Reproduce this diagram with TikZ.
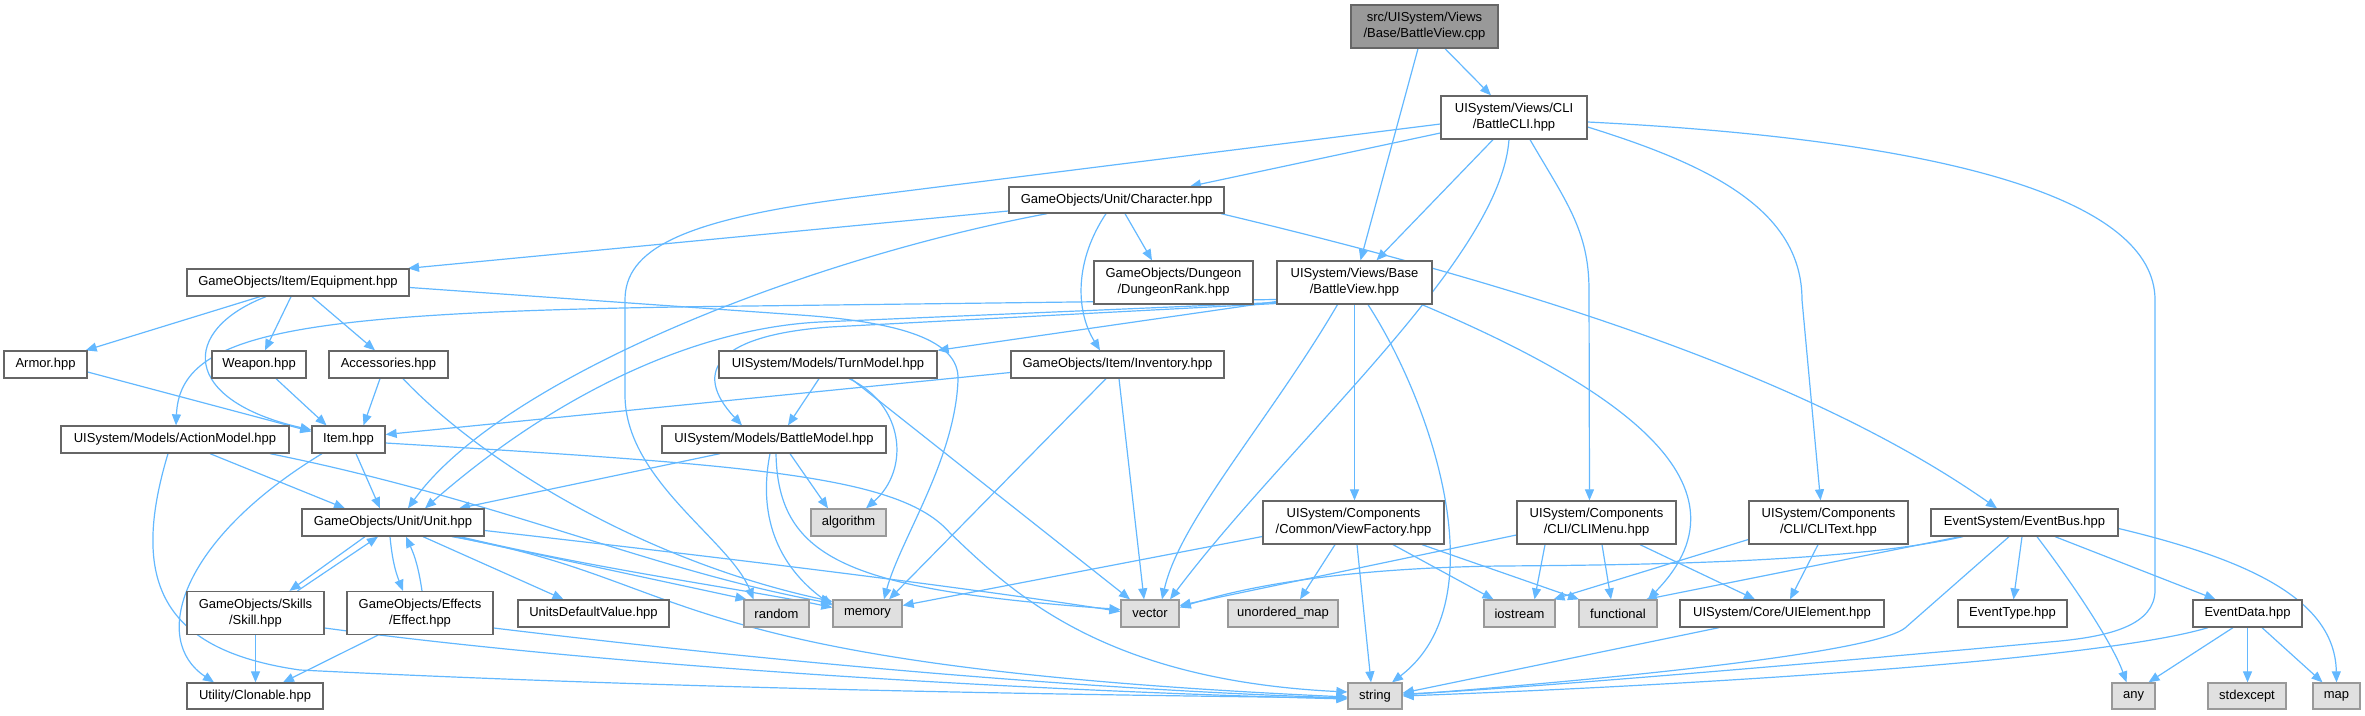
\documentclass[tikz,border=0pt]{standalone}
\usepackage{fontspec}
\setmainfont{Liberation Sans}
\usetikzlibrary{arrows.meta}
\definecolor{edgec}{HTML}{63B8FF}
\definecolor{bord}{HTML}{666666}
\definecolor{sysbord}{HTML}{999999}
\definecolor{sysfill}{HTML}{E0E0E0}
\definecolor{rootfill}{HTML}{999999}
\pgfdeclarelayer{bg}
\pgfsetlayers{bg,main}
\tikzset{
  box/.style={draw=bord, line width=1.3pt, fill=white, inner sep=0pt, align=center,
    font=\fontsize{13}{16}\selectfont, text=black},
  sys/.style={box, draw=sysbord, fill=sysfill},
  root/.style={box, fill=rootfill},
  edge/.style={draw=edgec, line width=1.2pt, -{Triangle[length=11pt,width=9pt]}},
}
\begin{document}
\begin{tikzpicture}[x=1pt,y=-1pt]
\useasboundingbox (0,0) rectangle (2365,715);
% nodes
\node[root, minimum width=147pt, minimum height=43pt] (cpp) at (1424.5,26.5) {src/UISystem/Views\\/Base/BattleView.cpp};
\node[box, minimum width=146pt, minimum height=43pt] (cli) at (1514,117.5) {UISystem/Views/CLI\\/BattleCLI.hpp};
\node[box, minimum width=215pt, minimum height=26pt] (character) at (1116.5,200) {GameObjects/Unit/Character.hpp};
\node[box, minimum width=159pt, minimum height=43pt] (dungeon) at (1173.5,282.5) {GameObjects/Dungeon\\/DungeonRank.hpp};
\node[box, minimum width=155pt, minimum height=43pt] (bvh) at (1354.5,282.5) {UISystem/Views/Base\\/BattleView.hpp};
\node[box, minimum width=222pt, minimum height=27pt] (equipment) at (298,282.5) {GameObjects/Item/Equipment.hpp};
\node[box, minimum width=83pt, minimum height=27pt] (armor) at (45.5,364.5) {Armor.hpp};
\node[box, minimum width=94pt, minimum height=27pt] (weapon) at (259,364.5) {Weapon.hpp};
\node[box, minimum width=119pt, minimum height=27pt] (accessories) at (388.5,364.5) {Accessories.hpp};
\node[box, minimum width=218pt, minimum height=27pt] (turnmodel) at (828,364.5) {UISystem/Models/TurnModel.hpp};
\node[box, minimum width=213pt, minimum height=27pt] (inventory) at (1117.5,364.5) {GameObjects/Item/Inventory.hpp};
\node[box, minimum width=228pt, minimum height=27pt] (actionmodel) at (175,439.5) {UISystem/Models/ActionModel.hpp};
\node[box, minimum width=73pt, minimum height=27pt] (item) at (348.5,439.5) {Item.hpp};
\node[box, minimum width=224pt, minimum height=27pt] (battlemodel) at (774,439.5) {UISystem/Models/BattleModel.hpp};
\node[box, minimum width=182pt, minimum height=27pt] (unit) at (393,522.5) {GameObjects/Unit/Unit.hpp};
\node[sys, minimum width=75pt, minimum height=27pt] (algorithm) at (848.5,522.5) {algorithm};
\node[box, minimum width=181pt, minimum height=43pt] (viewfactory) at (1353.5,522.5) {UISystem/Components\\/Common/ViewFactory.hpp};
\node[box, minimum width=159pt, minimum height=43pt] (climenu) at (1596.5,522.5) {UISystem/Components\\/CLI/CLIMenu.hpp};
\node[box, minimum width=159pt, minimum height=43pt] (clitext) at (1828.5,522.5) {UISystem/Components\\/CLI/CLIText.hpp};
\node[box, minimum width=187pt, minimum height=27pt] (eventbus) at (2024.5,522.5) {EventSystem/EventBus.hpp};
\node[box, minimum width=137pt, minimum height=43pt] (skill) at (255.5,613) {GameObjects/Skills\\/Skill.hpp};
\node[box, minimum width=146pt, minimum height=43pt] (effect) at (420,613) {GameObjects/Effects\\/Effect.hpp};
\node[box, minimum width=151pt, minimum height=27pt] (udv) at (593.5,613.5) {UnitsDefaultValue.hpp};
\node[sys, minimum width=65pt, minimum height=27pt] (random) at (776.5,613.5) {random};
\node[sys, minimum width=69pt, minimum height=27pt] (memory) at (867.5,613.5) {memory};
\node[sys, minimum width=58pt, minimum height=27pt] (vector) at (1150,613.5) {vector};
\node[sys, minimum width=110pt, minimum height=27pt] (umap) at (1283,613.5) {unordered\_map};
\node[sys, minimum width=71pt, minimum height=27pt] (iostream) at (1519.5,613.5) {iostream};
\node[sys, minimum width=78pt, minimum height=27pt] (functional) at (1618,613.5) {functional};
\node[box, minimum width=204pt, minimum height=27pt] (uielement) at (1782,613.5) {UISystem/Core/UIElement.hpp};
\node[box, minimum width=109pt, minimum height=27pt] (eventtype) at (2012.5,613.5) {EventType.hpp};
\node[box, minimum width=109pt, minimum height=27pt] (eventdata) at (2247.5,613.5) {EventData.hpp};
\node[box, minimum width=136pt, minimum height=26pt] (clonable) at (255,696) {Utility/Clonable.hpp};
\node[sys, minimum width=54pt, minimum height=26pt] (string) at (1375,696) {string};
\node[sys, minimum width=43pt, minimum height=26pt] (any) at (2133.5,696) {any};
\node[sys, minimum width=78pt, minimum height=26pt] (stdexcept) at (2247,696) {stdexcept};
\node[sys, minimum width=47pt, minimum height=26pt] (map) at (2336.5,696) {map};

\begin{pgfonlayer}{bg}
% root
\draw[edge] ([shift={(-6.5,0)}]cpp.south) -- ([shift={(6,0)}]bvh.north);
\draw[edge] ([shift={(20.5,0)}]cpp.south) -- ([shift={(-23,0)}]cli.north);
% BattleCLI
\draw[edge] ([shift={(0,15.5)}]cli.west) -- ([shift={(73.5,0)}]character.north);
\draw[edge] ([shift={(-21,0)}]cli.south) -- ([shift={(22,0)}]bvh.north);
\draw[edge] ([shift={(-5,0)}]cli.south) .. controls (1500,260) and (1290,440) .. ([shift={(20,0)}]vector.north);
\draw[edge] ([shift={(0,6.5)}]cli.west) -- (850,198) .. controls (680,220) and (625,250) .. (625,300) -- (625,395) .. controls (625,480) and (730,540) .. ([shift={(-23,0)}]random.north);
\draw[edge] ([shift={(16,0)}]cli.south) .. controls (1565,200) and (1589,230) .. (1589,290) -- ([shift={(-7,0)}]climenu.north);
\draw[edge] ([shift={(0,9.5)}]cli.east) .. controls (1710,165) and (1802,210) .. (1802,300) -- ([shift={(-8,0)}]clitext.north);
\draw[edge] ([shift={(0,4.5)}]cli.east) .. controls (1950,140) and (2155,200) .. (2155,300) -- (2155,590) .. controls (2155,625) and (2110,636) .. (2060,641) .. controls (1800,665) and (1500,690) .. ([shift={(0,-2)}]string.east);
% Character
\draw[edge] ([shift={(0,11)}]character.west) -- ([shift={(110,0)}]equipment.north);
\draw[edge] ([shift={(-69.5,0)}]character.south) .. controls (800,260) and (500,380) .. ([shift={(15,0)}]unit.north);
\draw[edge] ([shift={(8.5,0)}]character.south) -- ([shift={(-21.5,0)}]dungeon.north);
\draw[edge] ([shift={(-10.5,0)}]character.south) .. controls (1075,260) and (1075,310) .. ([shift={(-17.5,0)}]inventory.north);
\draw[edge] ([shift={(104.5,0)}]character.south) .. controls (1500,280) and (1800,370) .. ([shift={(-27.5,0)}]eventbus.north);
% Equipment
\draw[edge] ([shift={(-38,0)}]equipment.south) -- ([shift={(-2,0)}]armor.north east);
\draw[edge] ([shift={(-32,0)}]equipment.south) .. controls (180,330) and (180,400) .. ([shift={(0,-9.5)}]item.west);
\draw[edge] ([shift={(-7,0)}]equipment.south) -- ([shift={(6,0)}]weapon.north);
\draw[edge] ([shift={(14,0)}]equipment.south) -- ([shift={(-13.5,0)}]accessories.north);
\draw[edge] ([shift={(0,5)}]equipment.east) -- (800,315) .. controls (900,322) and (960,340) .. (958,380) .. controls (955,460) and (900,540) .. ([shift={(16.5,0)}]memory.north);
% BattleView.hpp
\draw[edge] ([shift={(0,17)}]bvh.west) -- (750,306) .. controls (300,311) and (180,330) .. ([shift={(1,0)}]actionmodel.north);
\draw[edge] ([shift={(0,20)}]bvh.west) -- (820,322) .. controls (700,328) and (560,390) .. ([shift={(32,0)}]unit.north);
\draw[edge] ([shift={(0,21)}]bvh.west) -- (830,327) .. controls (720,335) and (690,370) .. ([shift={(-32,0)}]battlemodel.north);
\draw[edge] ([shift={(0,19)}]bvh.west) -- (turnmodel.north east);
\draw[edge] ([shift={(-17,0)}]bvh.south) .. controls (1270,420) and (1180,520) .. ([shift={(12,0)}]vector.north);
\draw[edge] (bvh.south) -- ([shift={(1,0)}]viewfactory.north);
\draw[edge] ([shift={(13.5,0)}]bvh.south) .. controls (1430,400) and (1500,600) .. ([shift={(17,0)}]string.north);
\draw[edge] ([shift={(67.5,0)}]bvh.south) .. controls (1600,380) and (1765,480) .. ([shift={(30,0)}]functional.north);
% TurnModel
\draw[edge] ([shift={(-9,0)}]turnmodel.south) -- ([shift={(14,0)}]battlemodel.north);
\draw[edge] ([shift={(21,0)}]turnmodel.south) .. controls (905,405) and (910,470) .. ([shift={(17.5,0)}]algorithm.north);
\draw[edge] ([shift={(23,0)}]turnmodel.south) -- ([shift={(-20,0)}]vector.north);
% Inventory
\draw[edge] ([shift={(0,8)}]inventory.west) -- ([shift={(0,-5)}]item.east);
\draw[edge] ([shift={(-11.5,0)}]inventory.south) -- ([shift={(21.5,0)}]memory.north);
\draw[edge] ([shift={(1.5,0)}]inventory.south) -- ([shift={(-6,0)}]vector.north);
% Armor, Weapon, Accessories
\draw[edge] ([shift={(0,7.5)}]armor.east) -- ([shift={(0,-8)}]item.west);
\draw[edge] ([shift={(17,0)}]weapon.south) -- ([shift={(-22,0)}]item.north);
\draw[edge] ([shift={(-8.5,0)}]accessories.south) -- ([shift={(15,0)}]item.north);
\draw[edge] ([shift={(14.5,0)}]accessories.south) .. controls (480,460) and (640,560) .. ([shift={(0,-12)}]memory.west);
% ActionModel
\draw[edge] ([shift={(35,0)}]actionmodel.south) -- ([shift={(-48,0)}]unit.north);
\draw[edge] ([shift={(95,0)}]actionmodel.south) .. controls (500,500) and (650,570) .. ([shift={(0,-10)}]memory.west);
\draw[edge] ([shift={(-7,0)}]actionmodel.south) .. controls (130,580) and (160,650) .. (300,670) .. controls (700,690) and (1100,695) .. ([shift={(0,2)}]string.west);
% Item
\draw[edge] ([shift={(7.5,0)}]item.south) -- ([shift={(-13,0)}]unit.north);
\draw[edge] ([shift={(-26.5,0)}]item.south) .. controls (180,540) and (150,640) .. ([shift={(-41,0)}]clonable.north);
\draw[edge] ([shift={(0,3.5)}]item.east) .. controls (750,465) and (900,475) .. (950,533) .. controls (1010,590) and (1100,680) .. ([shift={(0,-4)}]string.west);
% BattleModel
\draw[edge] ([shift={(-54,0)}]battlemodel.south) -- ([shift={(66,0)}]unit.north);
\draw[edge] ([shift={(16,0)}]battlemodel.south) -- ([shift={(-20.5,0)}]algorithm.north);
\draw[edge] ([shift={(-4,0)}]battlemodel.south) .. controls (755,530) and (790,575) .. ([shift={(0,-8)}]memory.west);
\draw[edge] ([shift={(2,0)}]battlemodel.south) .. controls (778,560) and (850,590) .. ([shift={(0,-4)}]vector.west);
% Unit
\draw[edge] ([shift={(-28,0)}]unit.south) -- ([shift={(34,0)}]skill.north);
\draw[edge] ([shift={(42,0)}]skill.north) -- ([shift={(-15,0)}]unit.south);
\draw[edge] ([shift={(-3,0)}]unit.south) to[bend right=8] ([shift={(-17,0)}]effect.north);
\draw[edge] ([shift={(2,0)}]effect.north) to[bend right=8] ([shift={(13,0)}]unit.south);
\draw[edge] ([shift={(30,0)}]unit.south) -- ([shift={(-30,0)}]udv.north);
\draw[edge] ([shift={(62,0)}]unit.south) -- ([shift={(-30,0)}]random.north);
\draw[edge] ([shift={(67,0)}]unit.south) .. controls (600,570) and (750,590) .. ([shift={(0,-6)}]memory.west);
\draw[edge] ([shift={(0,8)}]unit.east) .. controls (700,555) and (950,585) .. ([shift={(0,-2)}]vector.west);
\draw[edge] ([shift={(59,0)}]unit.south) .. controls (700,580) and (650,665) .. ([shift={(0,1)}]string.west);
% Skill, Effect
\draw[edge] (skill.south) -- (skill.south |- clonable.north);
\draw[edge] ([shift={(0,15)}]skill.east) .. controls (600,665) and (1000,690) .. ([shift={(0,3)}]string.west);
\draw[edge] ([shift={(-42,0)}]effect.south) -- ([shift={(28,0)}]clonable.north);
\draw[edge] ([shift={(0,15)}]effect.east) .. controls (800,665) and (1100,690) .. ([shift={(0,2)}]string.west);
% ViewFactory
\draw[edge] ([shift={(0,14)}]viewfactory.west) -- ([shift={(0,-8)}]memory.east);
\draw[edge] ([shift={(-18.5,0)}]viewfactory.south) -- ([shift={(17,0)}]umap.north);
\draw[edge] ([shift={(3.5,0)}]viewfactory.south) -- ([shift={(-4,0)}]string.north);
\draw[edge] ([shift={(39.5,0)}]viewfactory.south) -- ([shift={(-26,0)}]iostream.north);
\draw[edge] ([shift={(68.5,0)}]viewfactory.south) -- ([shift={(-39,0)}]functional.north);
% CLIMenu
\draw[edge] ([shift={(0,12.5)}]climenu.west) -- ([shift={(0,-8)}]vector.east);
\draw[edge] ([shift={(-51.5,0)}]climenu.south) -- ([shift={(15,0)}]iostream.north);
\draw[edge] ([shift={(5.5,0)}]climenu.south) -- ([shift={(-7,0)}]functional.north);
\draw[edge] ([shift={(43.5,0)}]climenu.south) -- ([shift={(-27,0)}]uielement.north);
% CLIText
\draw[edge] ([shift={(0,17)}]clitext.west) -- ([shift={(34,0)}]iostream.north);
\draw[edge] ([shift={(-10.5,0)}]clitext.south) -- ([shift={(8,0)}]uielement.north);
% EventBus
\draw[edge] ([shift={(-61.5,0)}]eventbus.south) .. controls (1850,562) and (1650,565) .. (1500,566) .. controls (1350,568) and (1250,585) .. ([shift={(0,-6)}]vector.east);
\draw[edge] ([shift={(-64.5,0)}]eventbus.south) -- ([shift={(28,0)}]functional.north);
\draw[edge] ([shift={(-15.5,0)}]eventbus.south) -- (1905,628) .. controls (1880,648) and (1700,672) .. ([shift={(0,-1)}]string.east);
\draw[edge] ([shift={(-2.5,0)}]eventbus.south) -- ([shift={(1,0)}]eventtype.north);
\draw[edge] ([shift={(12.5,0)}]eventbus.south) .. controls (2085,600) and (2115,650) .. ([shift={(-7,0)}]any.north);
\draw[edge] ([shift={(30.5,0)}]eventbus.south) -- ([shift={(-32,0)}]eventdata.north);
\draw[edge] ([shift={(0,6)}]eventbus.east) .. controls (2250,560) and (2335,600) .. (map.north);
% EventData
\draw[edge] ([shift={(-39.5,0)}]eventdata.south) .. controls (2100,660) and (1700,685) .. (string.east);
\draw[edge] ([shift={(-14.5,0)}]eventdata.south) -- ([shift={(15,0)}]any.north);
\draw[edge] (eventdata.south) -- (eventdata.south |- stdexcept.north);
\draw[edge] ([shift={(14.5,0)}]eventdata.south) -- ([shift={(-14,0)}]map.north);
% UIElement
\draw[edge] ([shift={(-63,0)}]uielement.south) -- ([shift={(0,-3)}]string.east);
\end{pgfonlayer}
\end{tikzpicture}
\end{document}
